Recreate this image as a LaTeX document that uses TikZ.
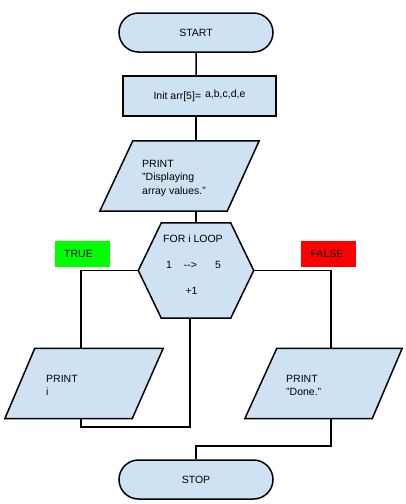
\documentclass[tikz,border=0pt]{standalone}
\usepackage{fontspec}
\setmainfont{Liberation Sans}
\usetikzlibrary{shapes.misc}
\definecolor{boxblue}{HTML}{CFE2F3}
\definecolor{truegreen}{HTML}{00FF00}
\definecolor{falsered}{HTML}{FF0000}
\begin{document}
\begin{tikzpicture}[x=1pt,y=-1pt,
  font=\fontsize{10.5}{13}\selectfont,
  outline/.style={draw=black, line width=1.5pt, fill=boxblue},
  terminal/.style={outline, rounded rectangle, minimum width=154pt, minimum height=39pt, inner sep=0pt},
  procbox/.style={outline, rectangle, minimum width=153pt, minimum height=40pt, inner sep=0pt},
  frame/.style={rectangle, inner sep=0pt, minimum height=70pt},
  link/.style={draw=black, line width=1.5pt},
  txt/.style={anchor=base west, inner sep=0pt},
  ctxt/.style={anchor=base, inner sep=0pt},
  flag/.style={minimum width=55pt, minimum height=26pt, inner sep=0pt}
]
\useasboundingbox (0,0) rectangle (406,504);

% nodes
\node[terminal] (start) at (196,32.5) {START};
\node[procbox] (init) at (199.5,96) {Init arr[5]=\hspace{4pt}\raisebox{2pt}{a,b,c,d,e}};
\node[frame, minimum width=159pt] (p1) at (179.5,176) {};
\node[rectangle, inner sep=0pt, minimum width=115pt, minimum height=95pt] (hex) at (196,270.5) {};
\node[frame, minimum width=158pt] (pl) at (84,383.5) {};
\node[frame, minimum width=157pt] (pr) at (323.5,383.5) {};
\node[terminal] (stop) at (196,479.5) {STOP};

% connectors
\coordinate (lx) at (81,0);
\coordinate (rx) at (331,0);
\coordinate (lb) at (190,427);
\coordinate (rb) at (196,446);
\draw[link] (start) -- (start |- init.north);
\draw[link] (start |- init.south) -- (start |- p1.north);
\draw[link] (start |- p1.south) -- (start |- hex.north);
\draw[link] (hex.west) -| (lx |- pl.north);
\draw[link] (lx |- pl.south) |- (lb) -- (lb |- hex.south);
\draw[link] (hex.east) -| (rx |- pr.north);
\draw[link] (rx |- pr.south) |- (rb) -- (rb |- stop.north);

% shapes drawn from the frame nodes
\draw[outline, line join=miter] (p1.south west) -- ([xshift=33pt]p1.north west) -- (p1.north east) -- ([xshift=-32pt]p1.south east) -- cycle;
\draw[outline, line join=miter] (hex.west) -- ([xshift=23pt]hex.north west) -- ([xshift=-23pt]hex.north east) -- (hex.east) -- ([xshift=-23pt]hex.south east) -- ([xshift=23pt]hex.south west) -- cycle;
\draw[outline, line join=miter] (pl.south west) -- ([xshift=30pt]pl.north west) -- (pl.north east) -- ([xshift=-31pt]pl.south east) -- cycle;
\draw[outline, line join=miter] (pr.south west) -- ([xshift=32pt]pr.north west) -- (pr.north east) -- ([xshift=-30pt]pr.south east) -- cycle;

% texts
\node[txt] (p1a) at (142,167) {PRINT};
\node[txt] (p1b) at (142,180.5) {"Displaying};
\node[txt] (p1c) at (142,194) {array values."};
\node[ctxt] (h1) at (193,242) {FOR i LOOP};
\node[ctxt] (h2) at (169,268) {1};
\node[ctxt] (h3) at (190.5,268) {-{}->};
\node[ctxt] (h4) at (218,268) {5};
\node[ctxt] (h5) at (191.5,294) {+1};
\node[txt] (pla) at (46,382) {PRINT};
\node[txt] (plb) at (46,395) {i};
\node[txt] (pra) at (286,382) {PRINT};
\node[txt] (prb) at (286,395) {"Done."};

% flags
\node[flag, fill=truegreen] (tflag) at (82.5,254) {\hspace{-8pt}TRUE};
\node[flag, fill=falsered] (fflag) at (328.5,254) {\hspace{-3pt}FALSE};
\end{tikzpicture}
\end{document}
